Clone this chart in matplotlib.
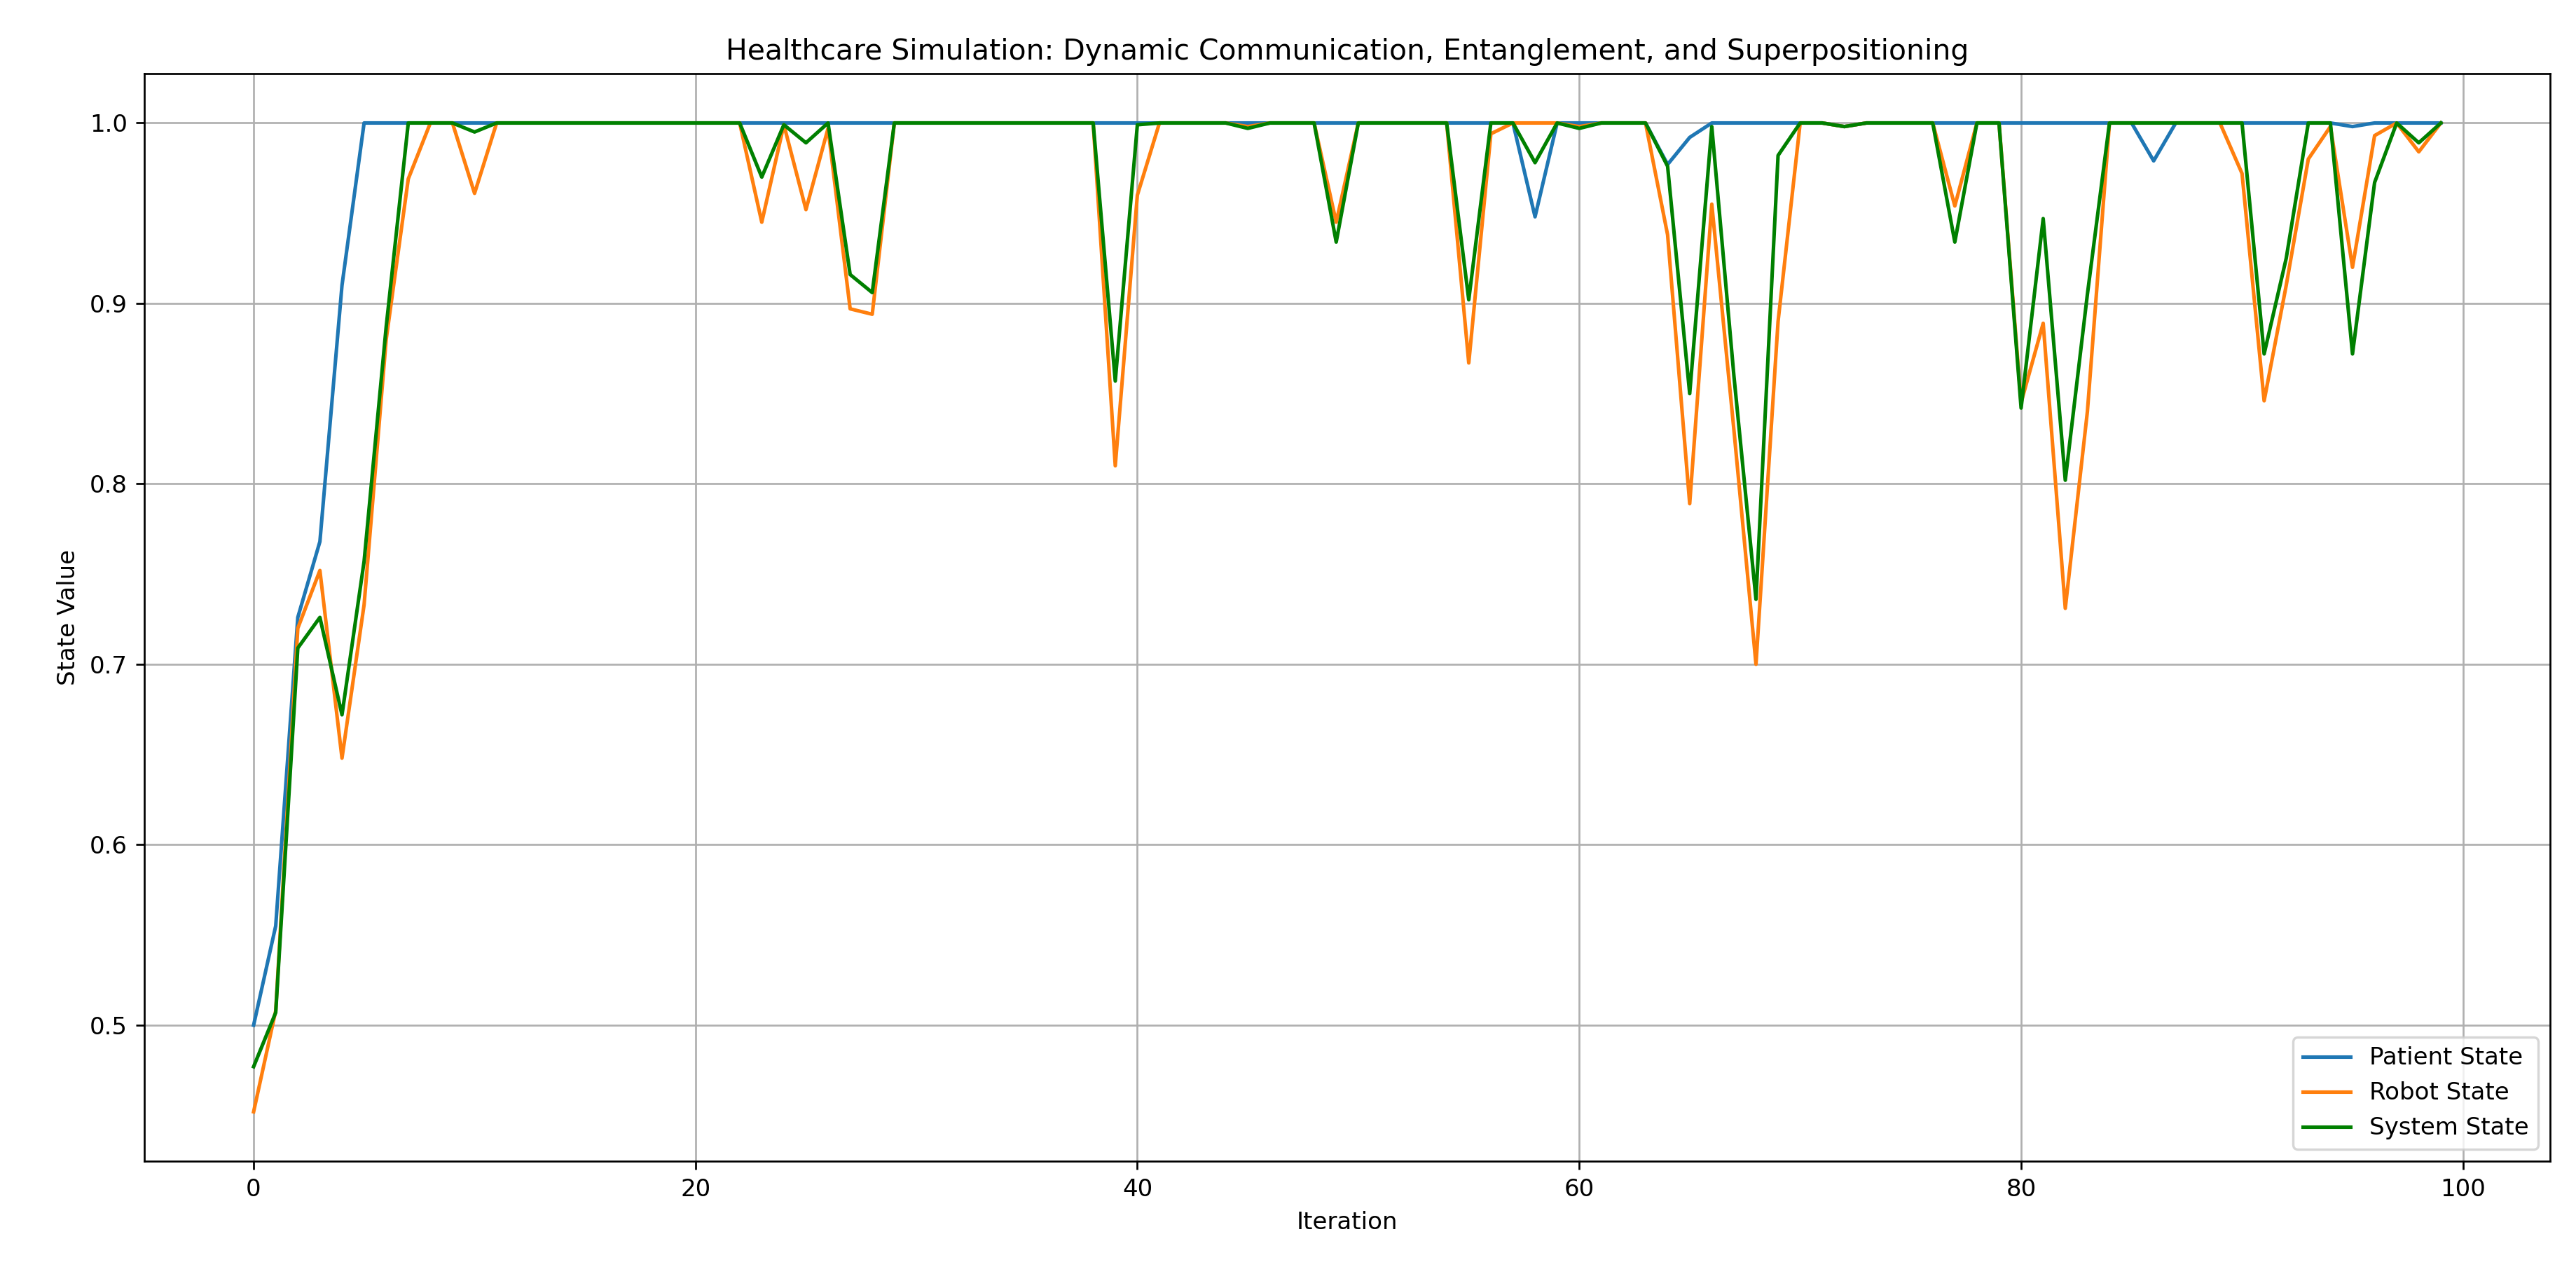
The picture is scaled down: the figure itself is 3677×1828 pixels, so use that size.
import matplotlib
matplotlib.use("Agg")
import matplotlib.pyplot as plt

iterations = list(range(100))

patient_state = [
    0.500, 0.555, 0.726, 0.768, 0.910, 1.0, 1.0, 1.0, 1.0, 1.0,
    1.0, 1.0, 1.0, 1.0, 1.0, 1.0, 1.0, 1.0, 1.0, 1.0,
    1.0, 1.0, 1.0, 1.0, 1.0, 1.0, 1.0, 1.0, 1.0, 1.0,
    1.0, 1.0, 1.0, 1.0, 1.0, 1.0, 1.0, 1.0, 1.0, 1.0,
    1.0, 1.0, 1.0, 1.0, 1.0, 1.0, 1.0, 1.0, 1.0, 1.0,
    1.0, 1.0, 1.0, 1.0, 1.0, 1.0, 1.0, 1.0, 0.948, 1.0,
    1.0, 1.0, 1.0, 1.0, 0.977, 0.992, 1.0, 1.0, 1.0, 1.0,
    1.0, 1.0, 0.998, 1.0, 1.0, 1.0, 1.0, 1.0, 1.0, 1.0,
    1.0, 1.0, 1.0, 1.0, 1.0, 1.0, 0.979, 1.0, 1.0, 1.0,
    1.0, 1.0, 1.0, 1.0, 1.0, 0.998, 1.0, 1.0, 1.0, 1.0,
]

robot_state = [
    0.452, 0.508, 0.720, 0.752, 0.648, 0.733, 0.880, 0.969, 1.0, 1.0,
    0.961, 1.0, 1.0, 1.0, 1.0, 1.0, 1.0, 1.0, 1.0, 1.0,
    1.0, 1.0, 1.0, 0.945, 0.999, 0.952, 0.997, 0.897, 0.894, 1.0,
    1.0, 1.0, 1.0, 1.0, 1.0, 1.0, 1.0, 1.0, 1.0, 0.810,
    0.960, 1.0, 1.0, 1.0, 1.0, 0.998, 1.0, 1.0, 1.0, 0.945,
    1.0, 1.0, 1.0, 1.0, 1.0, 0.867, 0.994, 1.0, 1.0, 1.0,
    0.998, 1.0, 1.0, 1.0, 0.938, 0.789, 0.955, 0.830, 0.700, 0.890,
    1.0, 1.0, 0.998, 1.0, 1.0, 1.0, 1.0, 0.954, 1.0, 1.0,
    0.845, 0.889, 0.731, 0.840, 1.0, 1.0, 1.0, 1.0, 1.0, 1.0,
    0.972, 0.846, 0.910, 0.980, 0.998, 0.920, 0.993, 1.0, 0.984, 1.0,
]

system_state = [
    0.477, 0.507, 0.709, 0.726, 0.672, 0.757, 0.887, 1.0, 1.0, 1.0,
    0.995, 1.0, 1.0, 1.0, 1.0, 1.0, 1.0, 1.0, 1.0, 1.0,
    1.0, 1.0, 1.0, 0.970, 0.999, 0.989, 1.0, 0.916, 0.906, 1.0,
    1.0, 1.0, 1.0, 1.0, 1.0, 1.0, 1.0, 1.0, 1.0, 0.857,
    0.999, 1.0, 1.0, 1.0, 1.0, 0.997, 1.0, 1.0, 1.0, 0.934,
    1.0, 1.0, 1.0, 1.0, 1.0, 0.902, 1.0, 1.0, 0.978, 1.0,
    0.997, 1.0, 1.0, 1.0, 0.976, 0.850, 0.998, 0.860, 0.736, 0.982,
    1.0, 1.0, 0.998, 1.0, 1.0, 1.0, 1.0, 0.934, 1.0, 1.0,
    0.842, 0.947, 0.802, 0.905, 1.0, 1.0, 1.0, 1.0, 1.0, 1.0,
    1.0, 0.872, 0.925, 1.0, 1.0, 0.872, 0.967, 1.0, 0.989, 1.0,
]

fig, ax = plt.subplots(figsize=(3677 / 245, 1828 / 245), dpi=245)
fig.subplots_adjust(left=0.056, right=0.990, top=0.9426, bottom=0.0935)

ax.plot(iterations, patient_state, label="Patient State", color="tab:blue")
ax.plot(iterations, robot_state, label="Robot State", color="tab:orange")
ax.plot(iterations, system_state, label="System State", color="green")

ax.set_title("Healthcare Simulation: Dynamic Communication, Entanglement, and Superpositioning")
ax.set_xlabel("Iteration")
ax.set_ylabel("State Value")
ax.legend(loc="lower right")
ax.grid(True)

fig.savefig("out.png", dpi=245)
